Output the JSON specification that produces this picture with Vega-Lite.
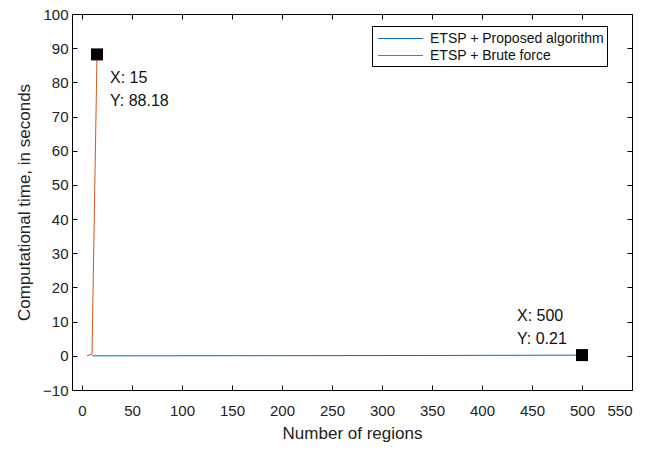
{
  "$schema": "https://vega.github.io/schema/vega-lite/v6.json",
  "width": 560,
  "height": 376,
  "autosize": {"type": "none"},
  "padding": {"left": 72, "top": 14, "right": 15, "bottom": 60},
  "background": "white",
  "config": {
    "font": "Liberation Sans",
    "view": {"stroke": "black", "strokeWidth": 1},
    "axis": {
      "grid": false,
      "domainColor": "black",
      "tickColor": "black",
      "labelColor": "#222",
      "titleColor": "#222",
      "labelFont": "Liberation Sans",
      "titleFont": "Liberation Sans",
      "labelFontSize": 15,
      "titleFontSize": 17,
      "titleFontWeight": "normal",
      "tickSize": -5
    }
  },
  "datasets": {
    "series": [
      {"n": 10, "time": 0.003, "method": "ETSP + Proposed algorithm"},
      {"n": 15, "time": 0.004, "method": "ETSP + Proposed algorithm"},
      {"n": 20, "time": 0.005, "method": "ETSP + Proposed algorithm"},
      {"n": 50, "time": 0.01, "method": "ETSP + Proposed algorithm"},
      {"n": 100, "time": 0.02, "method": "ETSP + Proposed algorithm"},
      {"n": 150, "time": 0.03, "method": "ETSP + Proposed algorithm"},
      {"n": 200, "time": 0.045, "method": "ETSP + Proposed algorithm"},
      {"n": 250, "time": 0.06, "method": "ETSP + Proposed algorithm"},
      {"n": 300, "time": 0.08, "method": "ETSP + Proposed algorithm"},
      {"n": 350, "time": 0.1, "method": "ETSP + Proposed algorithm"},
      {"n": 400, "time": 0.13, "method": "ETSP + Proposed algorithm"},
      {"n": 450, "time": 0.17, "method": "ETSP + Proposed algorithm"},
      {"n": 500, "time": 0.21, "method": "ETSP + Proposed algorithm"},
      {"n": 5, "time": 0.01, "method": "ETSP + Brute force"},
      {"n": 10, "time": 0.5, "method": "ETSP + Brute force"},
      {"n": 15, "time": 88.18, "method": "ETSP + Brute force"}
    ],
    "tips": [
      {"n": 15, "time": 88.18, "label": "X: 15\nY: 88.18", "which": "top"},
      {"n": 500, "time": 0.21, "label": "X: 500\nY: 0.21", "which": "bottom"}
    ]
  },
  "layer": [
    {
      "data": {"name": "series"},
      "mark": {"type": "line", "strokeWidth": 1},
      "encoding": {
        "x": {
          "field": "n", "type": "quantitative",
          "scale": {"domain": [-10, 550], "nice": false, "zero": false},
          "axis": {"orient": "bottom", "values": [0,50,100,150,200,250,300,350,400,450,500,550], "title": "Number of regions", "labelPadding": 18, "titlePadding": 7}
        },
        "y": {
          "field": "time", "type": "quantitative",
          "scale": {"domain": [-10, 100], "nice": false, "zero": false},
          "axis": {"orient": "left", "values": [-10,0,10,20,30,40,50,60,70,80,90,100], "title": "Computational time, in seconds", "labelPadding": 9, "titlePadding": 9}
        },
        "color": {
          "field": "method", "type": "nominal",
          "scale": {"domain": ["ETSP + Proposed algorithm", "ETSP + Brute force"], "range": ["#0072BD", "#D95319"]},
          "legend": {
            "title": null,
            "orient": "none",
            "legendX": 300,
            "legendY": 12,
            "symbolType": "M-2.5,0H2.5",
            "symbolSize": 324,
            "symbolStrokeWidth": 1,
            "symbolOffset": 16,
            "strokeColor": "black",
            "fillColor": "white",
            "padding": 3,
            "labelFontSize": 14,
            "labelFont": "Liberation Sans",
            "labelColor": "#111",
            "labelLimit": 0,
            "rowPadding": 0,
            "labelOffset": 20
          }
        }
      }
    },
    {
      "data": {"name": "tips"},
      "mark": {"type": "square", "filled": true, "color": "black", "size": 144, "opacity": 1},
      "encoding": {
        "x": {"field": "n", "type": "quantitative", "axis": null},
        "y": {"field": "time", "type": "quantitative", "axis": null}
      }
    },
    {
      "data": {"name": "tips"},
      "transform": [{"filter": "datum.which == 'top'"}],
      "mark": {"type": "text", "align": "left", "baseline": "middle", "dx": 13, "dy": 24, "fontSize": 16, "lineHeight": 23, "lineBreak": "\n", "color": "#111"},
      "encoding": {
        "x": {"field": "n", "type": "quantitative", "axis": null},
        "y": {"field": "time", "type": "quantitative", "axis": null},
        "text": {"field": "label"}
      }
    },
    {
      "data": {"name": "tips"},
      "transform": [{"filter": "datum.which == 'bottom'"}],
      "mark": {"type": "text", "align": "left", "baseline": "middle", "dx": -65, "dy": -39, "fontSize": 16, "lineHeight": 23, "lineBreak": "\n", "color": "#111"},
      "encoding": {
        "x": {"field": "n", "type": "quantitative", "axis": null},
        "y": {"field": "time", "type": "quantitative", "axis": null},
        "text": {"field": "label"}
      }
    },
    {
      "data": {"name": "tips"},
      "mark": {"type": "point", "opacity": 0},
      "encoding": {
        "x": {"field": "n", "type": "quantitative", "axis": {"orient": "top", "values": [0,50,100,150,200,250,300,350,400,450,500,550], "labels": false, "title": null, "domain": false}},
        "y": {"field": "time", "type": "quantitative", "axis": {"orient": "right", "values": [-10,0,10,20,30,40,50,60,70,80,90,100], "labels": false, "title": null, "domain": false}}
      }
    }
  ],
  "resolve": {"axis": {"x": "independent", "y": "independent"}}
}
